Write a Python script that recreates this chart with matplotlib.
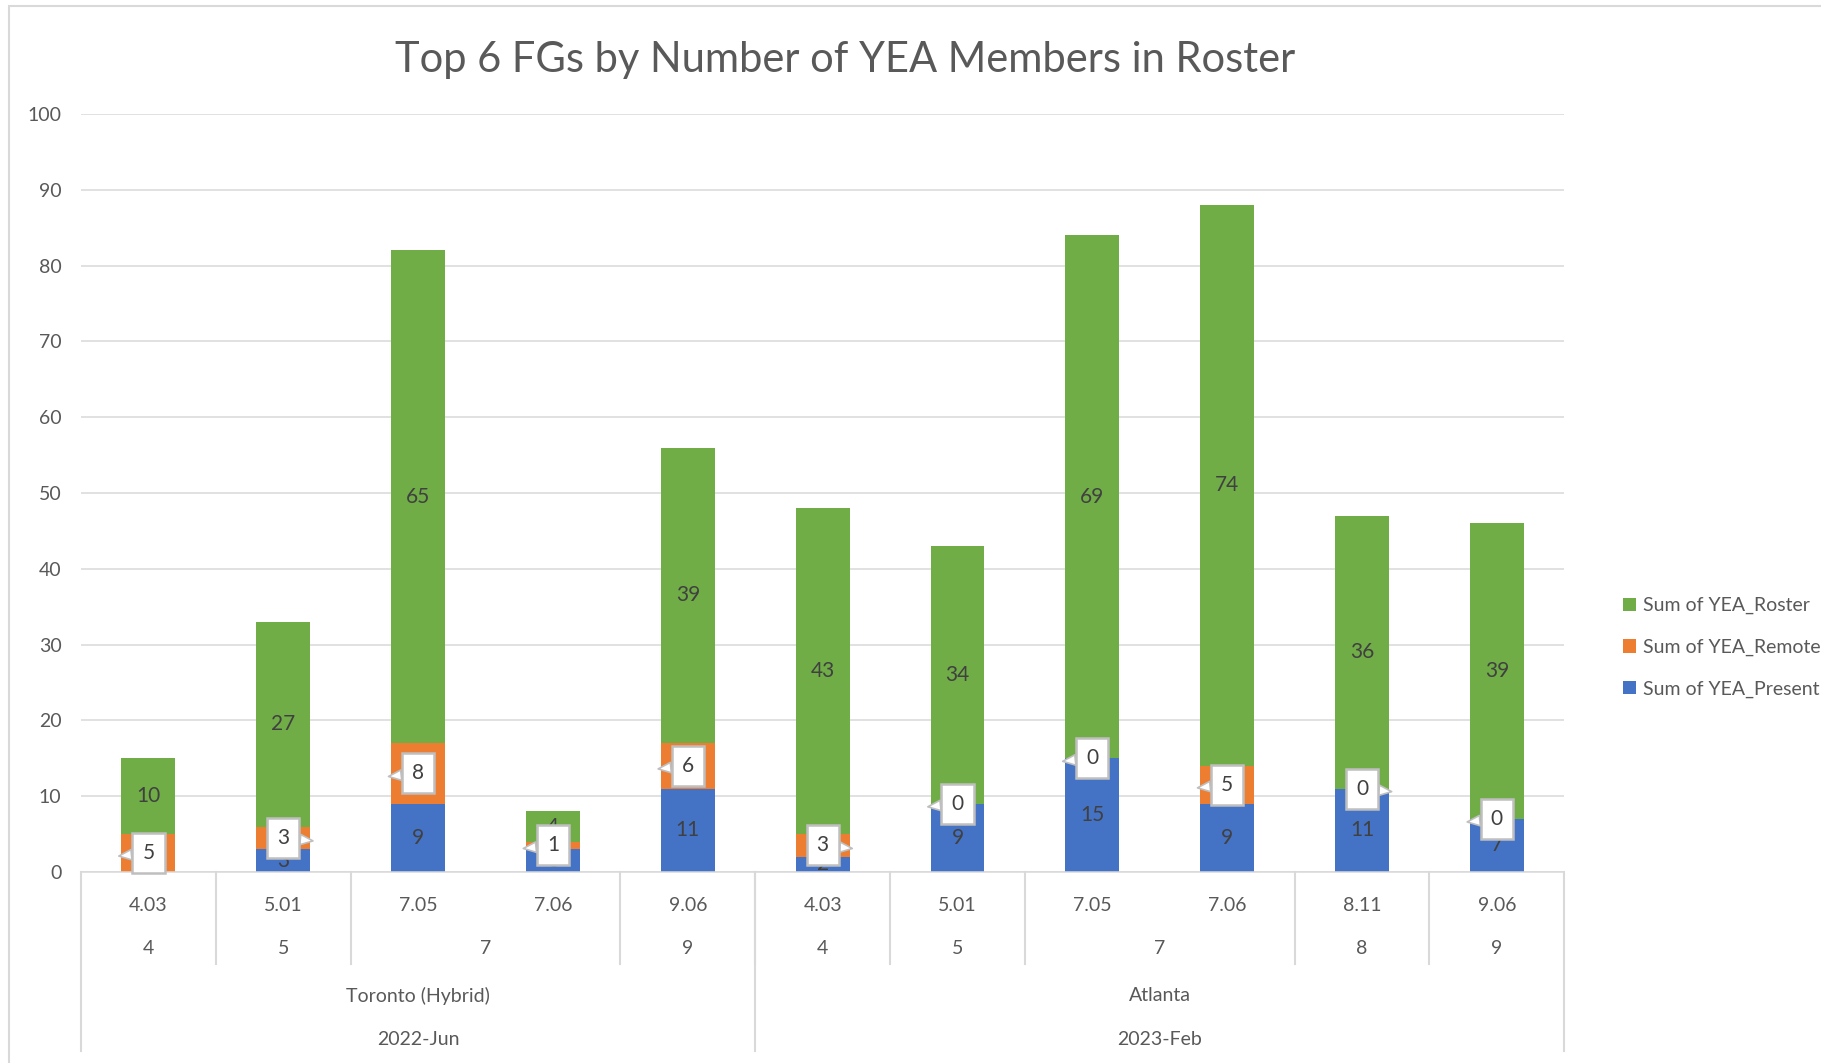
import numpy as np
import matplotlib.pyplot as plt
from matplotlib.transforms import blended_transform_factory
from matplotlib.patches import Rectangle

plt.rcParams['font.family'] = ['Lato', 'DejaVu Sans']

# categories (multi-level axis, innermost first)
fg_codes = ['4.03', '5.01', '7.05', '7.06', '9.06',
            '4.03', '5.01', '7.05', '7.06', '8.11', '9.06']
fg_groups = ['4', '5', '7', '7', '9', '4', '5', '7', '7', '8', '9']
cities = ['Toronto (Hybrid)'] * 5 + ['Atlanta'] * 6
sessions = ['2022-Jun'] * 5 + ['2023-Feb'] * 6

# series
present = [0, 3, 9, 3, 11, 2, 9, 15, 9, 11, 7]
remote = [5, 3, 8, 1, 6, 3, 0, 0, 5, 0, 0]
roster = [10, 27, 65, 4, 39, 43, 34, 69, 74, 36, 39]

# side of the callout pointer for the remote labels
callout_side = ['L', 'R', 'L', 'L', 'L', 'R', 'L', 'L', 'L', 'R', 'L']

BLUE = '#4472C4'
ORANGE = '#ED7D31'
GREEN = '#70AD47'
GRID = '#D9D9D9'
TXT = '#404040'
TICK = '#595959'
FS = 14
LFS = 15
BAR_W = 0.4

fig = plt.figure(figsize=(18.21, 10.63), dpi=100)
ax = fig.add_axes([0.0445, 0.1797, 0.8145, 0.713])

x = np.arange(len(fg_codes))
present = np.array(present)
remote = np.array(remote)
roster = np.array(roster)

b1 = ax.bar(x, present, BAR_W, color=BLUE, label='Sum of YEA_Present', zorder=2)
b2 = ax.bar(x, remote, BAR_W, bottom=present, color=ORANGE, label='Sum of YEA_Remote', zorder=2)
b3 = ax.bar(x, roster, BAR_W, bottom=present + remote, color=GREEN, label='Sum of YEA_Roster', zorder=2)

ax.set_xlim(-0.5, len(x) - 0.5)
ax.set_ylim(0, 100)
ax.set_yticks(np.arange(0, 101, 10))
ax.yaxis.grid(True, color=GRID, linewidth=1.1, zorder=0)
ax.set_axisbelow(True)
for s in ['top', 'right', 'left']:
    ax.spines[s].set_visible(False)
ax.spines['bottom'].set_color(GRID)
ax.spines['bottom'].set_linewidth(1.1)
ax.tick_params(axis='y', length=0, pad=14, labelsize=FS, labelcolor=TICK)
ax.tick_params(axis='x', length=0, pad=18, labelsize=FS, labelcolor=TICK)
ax.set_xticks(x)
ax.set_xticklabels(fg_codes)

# data labels
for i in x:
    ax.text(i, present[i] / 2, str(present[i]), ha='center', va='center',
            fontsize=LFS, color=TXT, clip_on=True, zorder=3)
    ax.text(i, present[i] + remote[i] + roster[i] / 2, str(roster[i]),
            ha='center', va='center', fontsize=LFS, color=TXT, zorder=3)
for i in x:
    yc = present[i] + remote[i] / 2
    dx = -(BAR_W / 2 + 0.02) if callout_side[i] == 'L' else (BAR_W / 2 + 0.02)
    ax.annotate(str(remote[i]), xy=(i + dx, yc - 0.4), xytext=(i, yc),
                ha='center', va='center', fontsize=LFS, color=TXT, zorder=5,
                bbox=dict(boxstyle='square,pad=0.48', fc='white', ec='#BFBFBF', lw=1.8),
                arrowprops=dict(arrowstyle='wedge,tail_width=0.5,shrink_factor=0.5',
                                fc='white', ec='#BFBFBF', lw=1.2,
                                shrinkA=0, shrinkB=0))

# multi-level category axis
trans = blended_transform_factory(ax.transData, ax.transAxes)
row_y = [-0.101, -0.163, -0.221]
line_kw = dict(color=GRID, lw=1.5, transform=trans, clip_on=False)


def runs(keys):
    out = []
    start = 0
    for k in range(1, len(keys) + 1):
        if k == len(keys) or keys[k] != keys[start]:
            out.append((start, k - 1, keys[start]))
            start = k
    return out


levels = [
    list(zip(sessions, cities, fg_groups)),
    list(zip(sessions, cities)),
    list(zip(sessions)),
]
for lvl, keys in enumerate(levels):
    for a, b, key in runs(keys):
        ax.text((a + b) / 2, row_y[lvl], key[-1], transform=trans,
                ha='center', va='center', fontsize=FS, color=TICK)

for a, b, key in runs(levels[0]):
    if a > 0:
        ax.plot([a - 0.5, a - 0.5], [0, -0.121], **line_kw)
for a, b, key in runs(levels[1]):
    if a > 0:
        ax.plot([a - 0.5, a - 0.5], [0, -0.236], **line_kw)
ax.plot([-0.5, -0.5], [0, -0.236], **line_kw)
ax.plot([len(x) - 0.5, len(x) - 0.5], [0, -0.236], **line_kw)

fig.text(0.464, 0.9436, 'Top 6 FGs by Number of YEA Members in Roster',
         ha='center', va='center', fontsize=30, color=TICK)

fig.legend(handles=[b3, b2, b1], loc='center left', bbox_to_anchor=(0.891, 0.391),
           frameon=False, fontsize=FS, labelcolor=TICK, handlelength=0.7,
           handleheight=0.7, handletextpad=0.35, labelspacing=1.25,
           borderpad=0, borderaxespad=0)

# chart border
fig.patches.append(Rectangle((9 / 1821, -0.1), 1.2, 1 - 6 / 1063 + 0.1,
                             transform=fig.transFigure, fill=False,
                             ec=GRID, lw=1.5))

fig.savefig('out.png', dpi=100)
